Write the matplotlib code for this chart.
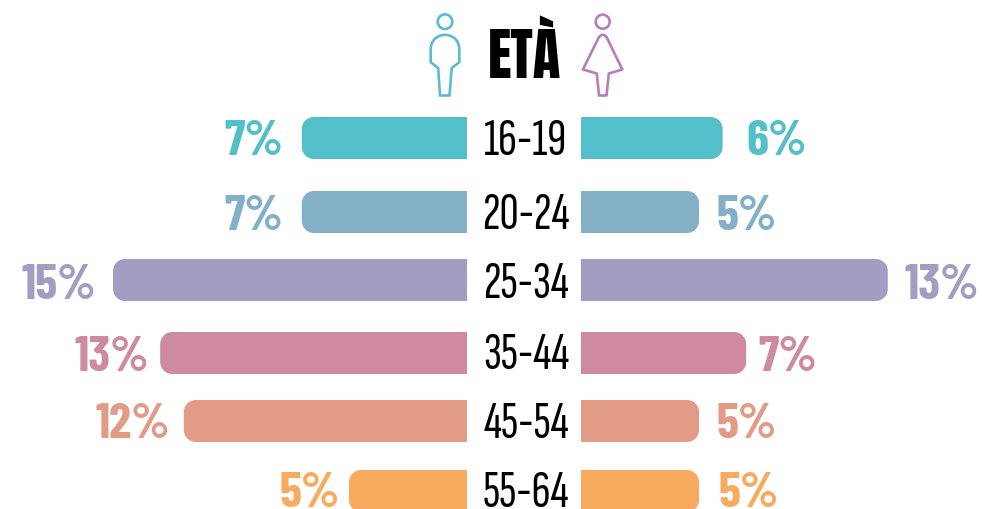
import matplotlib
matplotlib.use("Agg")
import matplotlib.pyplot as plt
from matplotlib.path import Path
from matplotlib.patches import PathPatch, Circle

age_groups = ["16-19", "20-24", "25-34", "35-44", "45-54", "55-64"]
men_pct = [7, 7, 15, 13, 12, 5]
women_pct = [6, 5, 13, 7, 5, 5]
bar_colors = ["#52BFC9", "#83AFC7", "#A39DC4", "#CD8AA1", "#E29B87", "#F8AB5F"]
title = "ETÀ"

W, H = 982, 509
PX_PER_PCT = 23.6
row_y = [138, 212, 280, 353, 421, 491]
BAR_H = 42
RADIUS = 12
left_gaps = [19, 19, 17, 11, 14, 9]
right_gaps = [24, 17, 17, 12, 17, 19]
label_base = [155, 229, 298, 369, 438, 507]
pct_base = [155, 230, 299, 371, 438, 507]

AGE_FONT = ["Sofia Sans Extra Condensed", "Liberation Sans", "DejaVu Sans"]
PCT_FONT = ["Barlow Condensed", "Liberation Sans", "DejaVu Sans"]
TITLE_FONT = ["Anton", "Liberation Sans", "DejaVu Sans"]

fig = plt.figure(figsize=(W / 100, H / 100), dpi=100, facecolor="white")


def px(n):
    return n * 0.72


def side_axes(x0, x1, xlim):
    ax = fig.add_axes([x0 / W, 0, (x1 - x0) / W, 1])
    ax.set_xlim(*xlim)
    ax.set_ylim(H, 0)
    ax.axis("off")
    return ax


ax_l = side_axes(0, 467, (467 / PX_PER_PCT, 0))
ax_r = side_axes(581, W, (0, (W - 581) / PX_PER_PCT))
ax_c = side_axes(0, W, (0, W))


def rounded_bar(ax, value, yc, color):
    k = 0.55
    r = RADIUS / PX_PER_PCT
    t, b = yc - BAR_H / 2, yc + BAR_H / 2
    R = RADIUS
    verts = [(0, t), (value - r, t),
             (value - r + k * r, t), (value, t + R - k * R), (value, t + R),
             (value, b - R),
             (value, b - R + k * R), (value - r + k * r, b), (value - r, b),
             (0, b), (0, t)]
    codes = [Path.MOVETO, Path.LINETO, Path.CURVE4, Path.CURVE4, Path.CURVE4,
             Path.LINETO, Path.CURVE4, Path.CURVE4, Path.CURVE4,
             Path.LINETO, Path.CLOSEPOLY]
    ax.add_patch(PathPatch(Path(verts, codes), facecolor=color, edgecolor="none"))


for i, age in enumerate(age_groups):
    c = bar_colors[i]
    rounded_bar(ax_l, men_pct[i], row_y[i], c)
    rounded_bar(ax_r, women_pct[i], row_y[i], c)
    ax_l.text(men_pct[i] + left_gaps[i] / PX_PER_PCT, pct_base[i], f"{men_pct[i]}%",
              ha="right", va="baseline", color=c, family=PCT_FONT,
              fontweight="bold", fontsize=px(50))
    ax_r.text(women_pct[i] + right_gaps[i] / PX_PER_PCT, pct_base[i], f"{women_pct[i]}%",
              ha="left", va="baseline", color=c, family=PCT_FONT,
              fontweight="bold", fontsize=px(50))
    ax_c.text(526, label_base[i], age, ha="center", va="baseline", color="black",
              family=AGE_FONT, fontsize=px(53))

ax_c.text(525, 78, title, ha="center", va="baseline", color="black", family=TITLE_FONT,
          fontsize=px(57))

# pictograms
MAN = "#5BBAD5"
WOMAN = "#B87DBB"
LW = 1.9
ax_c.add_patch(Circle((445, 21.7), 7.3, fill=False, edgecolor=MAN, linewidth=LW))
man_v = [(440, 95.5), (449.5, 95.5), (451.7, 68), (459.3, 62.3), (459.3, 49.5),
         (459.3, 30), (430.7, 30), (430.7, 49.5), (430.7, 62.3), (438.2, 68), (440, 95.5)]
man_c = [Path.MOVETO, Path.LINETO, Path.LINETO, Path.LINETO, Path.LINETO,
         Path.CURVE4, Path.CURVE4, Path.CURVE4, Path.LINETO, Path.LINETO, Path.CLOSEPOLY]
ax_c.add_patch(PathPatch(Path(man_v, man_c), fill=False, edgecolor=MAN, linewidth=LW))
ax_c.add_patch(Circle((602.7, 21.7), 7, fill=False, edgecolor=WOMAN, linewidth=LW))
wom_v = [(599, 95.5), (606.5, 95.5), (608.8, 73.5), (622.3, 69.5), (607.5, 39),
         (605, 33.5), (600.5, 33.5), (598, 39), (582.9, 69.5), (596.8, 73.5), (599, 95.5)]
wom_c = [Path.MOVETO, Path.LINETO, Path.LINETO, Path.LINETO, Path.LINETO,
         Path.CURVE4, Path.CURVE4, Path.CURVE4, Path.LINETO, Path.LINETO, Path.CLOSEPOLY]
ax_c.add_patch(PathPatch(Path(wom_v, wom_c), fill=False, edgecolor=WOMAN, linewidth=LW,
                         joinstyle="round"))

fig.savefig("out.png", dpi=100, facecolor="white")
